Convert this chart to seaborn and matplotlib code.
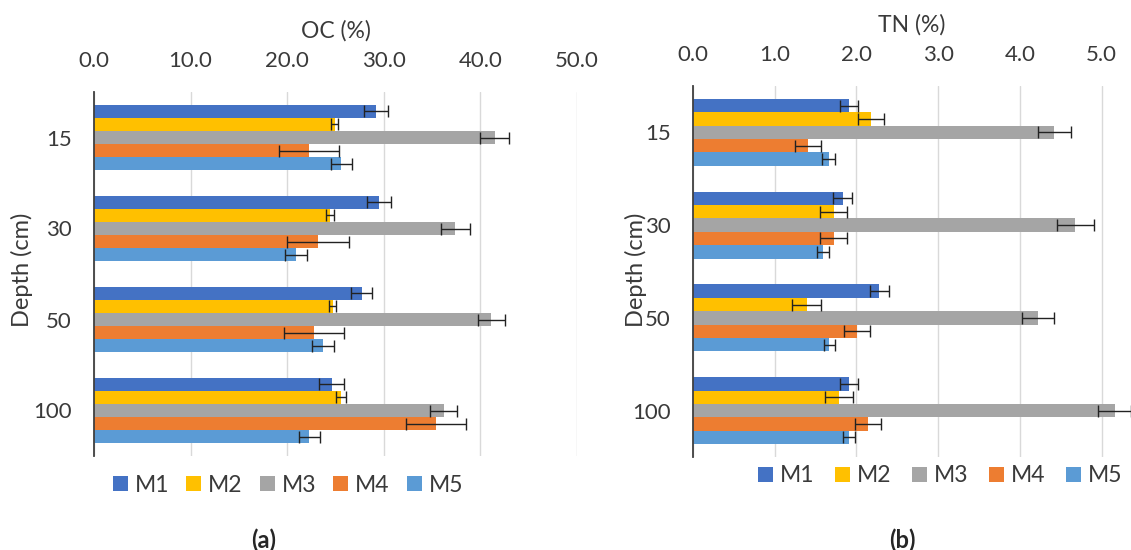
import matplotlib
matplotlib.use("Agg")
import matplotlib.pyplot as plt
import seaborn as sns
import pandas as pd

# Depth classes and treatments
depths = ["15", "30", "50", "100"]
treatments = ["M1", "M2", "M3", "M4", "M5"]
colors = ["#4472C4", "#FFC000", "#A5A5A5", "#ED7D31", "#5B9BD5"]

# Organic carbon (%) per treatment, one value per depth, with standard errors
oc_m1 = [29.2, 29.5, 27.7, 24.6]
oc_m2 = [24.9, 24.4, 24.7, 25.6]
oc_m3 = [41.5, 37.4, 41.1, 36.2]
oc_m4 = [22.3, 23.2, 22.8, 35.4]
oc_m5 = [25.6, 20.9, 23.7, 22.3]
oc_err_m1 = [1.2, 1.2, 1.1, 1.3]
oc_err_m2 = [0.4, 0.4, 0.4, 0.5]
oc_err_m3 = [1.5, 1.5, 1.4, 1.4]
oc_err_m4 = [3.1, 3.2, 3.1, 3.1]
oc_err_m5 = [1.1, 1.1, 1.1, 1.1]

# Total nitrogen (%) per treatment, one value per depth, with standard errors
tn_m1 = [1.91, 1.83, 2.28, 1.91]
tn_m2 = [2.18, 1.72, 1.39, 1.79]
tn_m3 = [4.42, 4.68, 4.22, 5.16]
tn_m4 = [1.41, 1.72, 2.01, 2.14]
tn_m5 = [1.66, 1.59, 1.67, 1.91]
tn_err_m1 = [0.11, 0.12, 0.12, 0.11]
tn_err_m2 = [0.16, 0.17, 0.18, 0.17]
tn_err_m3 = [0.20, 0.23, 0.20, 0.20]
tn_err_m4 = [0.16, 0.17, 0.16, 0.16]
tn_err_m5 = [0.08, 0.07, 0.07, 0.07]

oc_vals = [oc_m1, oc_m2, oc_m3, oc_m4, oc_m5]
oc_errs = [oc_err_m1, oc_err_m2, oc_err_m3, oc_err_m4, oc_err_m5]
tn_vals = [tn_m1, tn_m2, tn_m3, tn_m4, tn_m5]
tn_errs = [tn_err_m1, tn_err_m2, tn_err_m3, tn_err_m4, tn_err_m5]

FONT = ["Lato", "DejaVu Sans"]
sns.set_theme(style="white")
plt.rcParams["font.family"] = FONT
TEXT = "#3A3A3A"
FS = 16


def long_table(values, name):
    rows = []
    for t, vals in zip(treatments, values):
        for d, v in zip(depths, vals):
            rows.append({"Depth": d, "Treatment": t, name: v})
    return pd.DataFrame(rows)


def draw_panel(ax, values, errors, name, xmax, ticks):
    df = long_table(values, name)
    sns.barplot(data=df, y="Depth", x=name, hue="Treatment", order=depths,
                hue_order=treatments, palette=colors, width=0.72,
                errorbar=None, orient="h", saturation=1, ax=ax,
                linewidth=0)
    # error bars centred on each drawn bar
    for cont, errs in zip(ax.containers, errors):
        for bar, e in zip(cont, errs):
            yc = bar.get_y() + bar.get_height() / 2
            ax.errorbar(bar.get_width(), yc, xerr=e, fmt="none",
                        ecolor="#222222", elinewidth=1.0, capsize=4.5,
                        capthick=1.0, zorder=5)
    ax.set_xlim(0, xmax)
    ax.set_ylim(3.5, -0.5)
    ax.set_xticks(ticks)
    ax.set_xticklabels([f"{t:.1f}" for t in ticks])
    ax.xaxis.tick_top()
    ax.xaxis.set_label_position("top")
    ax.set_xlabel(name, fontsize=FS + 0.5, color=TEXT, labelpad=10)
    ax.set_ylabel("")
    ax.tick_params(axis="both", length=0, labelsize=FS, colors=TEXT)
    ax.tick_params(axis="y", pad=16)
    ax.tick_params(axis="x", pad=15)
    ax.grid(axis="x", color="#D9D9D9", linewidth=1.0)
    ax.grid(axis="y", visible=False)
    ax.set_axisbelow(True)
    for s in ("top", "right", "bottom"):
        ax.spines[s].set_visible(False)
    ax.spines["left"].set_color("#404040")
    ax.spines["left"].set_linewidth(1.3)
    handles, labels = ax.get_legend_handles_labels()
    if ax.get_legend() is not None:
        ax.get_legend().remove()
    return handles, labels


fig = plt.figure(figsize=(11.31, 5.5), dpi=100)
ax_a = fig.add_axes([94 / 1131, 1 - 456 / 550, 483 / 1131, 364 / 550])
ax_b = fig.add_axes([693 / 1131, 1 - 457 / 550, 438 / 1131, 371 / 550])

h, l = draw_panel(ax_a, oc_vals, oc_errs, "OC (%)", 50,
                  [0, 10, 20, 30, 40, 50])
draw_panel(ax_b, tn_vals, tn_errs, "TN (%)", 5.36,
           [0, 1, 2, 3, 4, 5])

leg_kw = dict(loc="center", ncol=5, frameon=False, fontsize=FS + 0.5,
              handlelength=0.65, handleheight=0.65, handletextpad=0.3,
              labelcolor=TEXT)
fig.legend(h, l, bbox_to_anchor=(288 / 1131, 1 - 485 / 550),
           columnspacing=0.75, **leg_kw)
fig.legend(h, l, bbox_to_anchor=(940 / 1131, 1 - 476 / 550),
           columnspacing=0.9, **leg_kw)

fig.text(22 / 1131, 1 - 270 / 550, "Depth (cm)", rotation=90, ha="center",
         va="center", fontsize=FS + 1, color=TEXT)
fig.text(636 / 1131, 1 - 270 / 550, "Depth (cm)", rotation=90, ha="center",
         va="center", fontsize=FS + 1, color=TEXT)

fig.text(264 / 1131, 1 - 540 / 550, "(a)", ha="center", va="center",
         fontsize=FS + 1, fontweight="bold", color="#262626")
fig.text(902 / 1131, 1 - 540 / 550, "(b)", ha="center", va="center",
         fontsize=FS + 1, fontweight="bold", color="#262626")

fig.savefig("out.png", dpi=100)
